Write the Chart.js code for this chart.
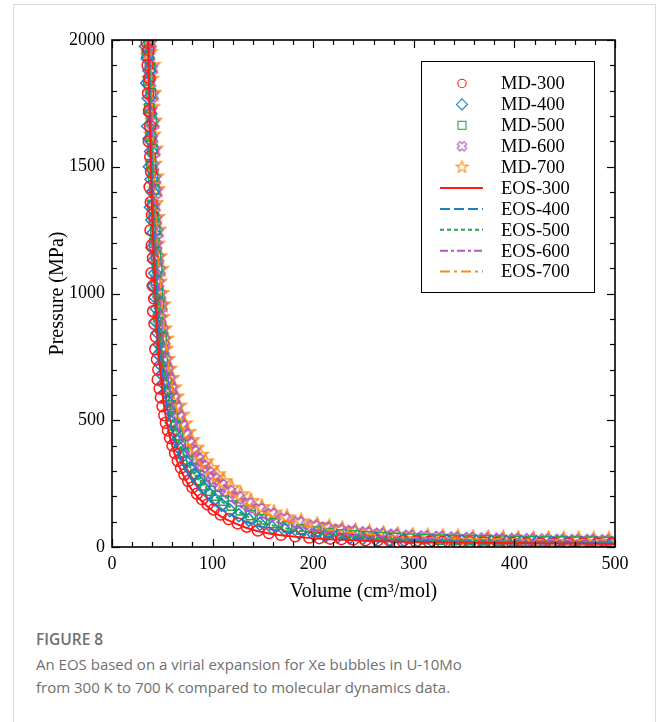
<!DOCTYPE html>
<html>
<head>
<meta charset="utf-8">
<script src="https://cdn.jsdelivr.net/npm/chart.js@4.4.0/dist/chart.umd.min.js"></script>
<style>
  html, body { margin: 0; padding: 0; background: #fff; }
  body { width: 656px; height: 722px; position: relative; overflow: hidden; }
  .frame { position: absolute; left: 13px; top: 4px; width: 643px; height: 760px;
           border: 1px solid #dcdcdc; box-sizing: border-box; }
  #wrap { position: absolute; left: 0; top: 0; width: 656px; height: 610px; }
  .caption { position: absolute; left: 36px; top: 628px; font-family: "Open Sans", sans-serif; color: #707070; }
  .caption .fig { font-weight: 600; font-size: 15.5px; line-height: 22px; }
  .caption p { margin: 3px 0 0 0; font-size: 15px; line-height: 22.5px; }
</style>
</head>
<body>
<div class="frame"></div>
<div id="wrap"><canvas id="eosChart" width="656" height="610"></canvas></div>
<div class="caption">
  <div class="fig">FIGURE 8</div>
  <p>An EOS based on a virial expansion for Xe bubbles in U-10Mo<br>from 300 K to 700 K compared to molecular dynamics data.</p>
</div>

<script>
/* ── MD data (volume cm3/mol, pressure MPa) ── */
var volume300   = [34.5, 36.2, 35.4, 37.1, 35.9, 36.8, 38.0, 36.6, 37.9, 38.9, 37.4, 38.6, 39.8, 38.3, 39.5, 40.8, 39.2, 40.6, 41.9, 40.9, 42.3, 43.6, 43.0, 44.7, 46.0, 45.4, 47.3, 48.6, 50.2, 52.0, 53.5, 55.6, 57.8, 60.1, 62.7, 65.4, 68.6, 72.0, 75.8, 80.0, 84.5, 89.6, 95.0, 101, 108, 116, 125, 134, 145, 156, 168, 182,
                   196, 206, 217, 228, 240, 252, 264, 276, 289, 302, 315, 328, 342, 356, 370, 384, 398, 412, 426, 440, 454, 468, 482, 496];
var pressure300 = [1990, 1960, 1900, 1850, 1790, 1720, 1660, 1600, 1540, 1480, 1420, 1360, 1310, 1250, 1190, 1140, 1080, 1030, 980, 930, 880, 830, 780, 740, 700, 660, 625, 590, 555, 520, 490, 460, 430, 400, 370, 340, 312, 286, 260, 235, 210, 188, 168, 148, 128, 110, 93, 80, 65, 55, 48, 42,
                   37, 35, 33, 31, 30, 27, 26, 25, 23, 22, 21, 20, 19, 19, 18, 17, 17, 16, 15, 15, 14, 14, 13, 13];

var volume400   = [33.8, 35.6, 37.0, 34.9, 36.4, 37.8, 36.0, 37.3, 38.9, 37.6, 39.2, 40.4, 38.7, 40.0, 41.3, 40.1, 41.8, 43.0, 41.6, 43.2, 44.5, 43.9, 45.6, 47.0, 46.5, 48.3, 49.9, 51.4, 53.2, 55.0, 57.2, 59.4, 61.8, 64.3, 67.0, 70.2, 73.6, 77.4, 81.5, 86.0, 91.0, 96.5, 102, 109, 117, 126, 136, 147, 159, 172, 186,
                   201, 212, 224, 236, 249, 262, 276, 290, 304, 318, 333, 348, 362, 377, 392, 407, 422, 437, 452, 467, 482, 497];
var pressure400 = [1975, 1930, 1880, 1830, 1770, 1710, 1660, 1610, 1560, 1500, 1450, 1400, 1340, 1290, 1240, 1180, 1130, 1080, 1030, 985, 940, 890, 845, 800, 760, 720, 680, 645, 610, 575, 540, 490, 455, 420, 390, 360, 335, 310, 285, 258, 233, 210, 188, 166, 145, 125, 107, 91, 77, 66, 56,
                   48, 44, 41, 37, 34, 32, 30, 28, 26, 25, 24, 23, 22, 21, 20, 20, 19, 18, 18, 17, 17, 16];

var volume500   = [36.5, 34.6, 37.8, 36.1, 38.6, 37.2, 39.5, 38.2, 40.3, 39.0, 40.9, 42.1, 40.2, 41.7, 43.1, 41.9, 43.7, 45.0, 43.6, 45.4, 46.8, 45.9, 47.9, 49.3, 48.7, 50.6, 52.4, 54.2, 56.2, 58.3, 60.6, 63.0, 65.6, 68.4, 71.5, 75.0, 78.8, 83.0, 87.5, 92.5, 98.0, 104, 111, 119, 128, 138, 149, 161, 174, 188,
                   203, 215, 228, 241, 254, 268, 282, 296, 311, 326, 341, 356, 371, 386, 401, 416, 431, 446, 461, 476, 491];
var pressure500 = [1995, 1940, 1890, 1840, 1790, 1730, 1680, 1620, 1570, 1510, 1460, 1410, 1350, 1300, 1250, 1200, 1150, 1100, 1050, 1005, 960, 910, 865, 825, 785, 745, 705, 650, 610, 560, 515, 480, 440, 405, 372, 340, 312, 287, 264, 243, 222, 203, 183, 163, 144, 126, 109, 94, 81, 70,
                   61, 55, 50, 46, 42, 39, 36, 33, 31, 29, 28, 27, 26, 25, 24, 23, 22, 22, 21, 21, 20];

var volume600   = [37.6, 35.8, 38.9, 37.0, 39.7, 38.3, 40.6, 39.2, 41.4, 40.1, 42.0, 43.3, 41.4, 42.9, 44.4, 43.2, 45.1, 46.5, 45.0, 46.9, 48.4, 47.4, 49.6, 51.1, 50.5, 52.6, 54.5, 56.5, 58.6, 61.0, 63.5, 66.2, 69.2, 72.5, 76.2, 80.3, 84.8, 89.8, 95.3, 101, 108, 116, 125, 135, 146, 158, 171, 185,
                   200, 212, 225, 238, 252, 266, 280, 295, 310, 325, 340, 355, 370, 385, 400, 415, 430, 445, 460, 475, 490];
var pressure600 = [1985, 1935, 1885, 1830, 1780, 1720, 1670, 1610, 1560, 1500, 1450, 1400, 1340, 1290, 1240, 1190, 1140, 1090, 1040, 995, 950, 900, 855, 815, 775, 735, 697, 660, 622, 585, 548, 512, 476, 442, 408, 376, 346, 318, 292, 268, 243, 218, 194, 170, 148, 128, 110, 95,
                   82, 74, 66, 60, 55, 50, 46, 42, 39, 37, 35, 33, 31, 30, 29, 28, 27, 26, 25, 25, 24];

var volume700   = [38.4, 36.9, 39.8, 38.1, 40.6, 39.3, 41.5, 40.2, 42.4, 41.2, 43.1, 44.5, 42.6, 44.1, 45.7, 44.4, 46.4, 47.9, 46.4, 48.4, 50.0, 48.9, 51.2, 52.8, 52.2, 54.4, 56.4, 58.5, 60.7, 63.2, 65.8, 68.6, 71.7, 75.1, 78.9, 83.1, 87.7, 92.8, 98.4, 104.5, 111, 119, 128, 138, 149, 161, 174, 188,
                   204, 216, 229, 242, 256, 270, 284, 299, 314, 329, 344, 359, 374, 389, 404, 419, 434, 449, 464, 479, 494];
var pressure700 = [1995, 1950, 1900, 1845, 1790, 1735, 1680, 1625, 1570, 1510, 1460, 1410, 1355, 1300, 1250, 1195, 1145, 1095, 1045, 1000, 955, 905, 860, 820, 780, 740, 702, 665, 628, 592, 556, 520, 486, 452, 420, 390, 362, 336, 310, 285, 258, 232, 206, 180, 156, 134, 115, 99,
                   85, 76, 69, 62, 56, 51, 47, 43, 40, 38, 36, 35, 34, 32, 31, 30, 30, 29, 29, 28, 28];

/* ── EOS curves ── */
var eosVolume = [35, 36, 37, 38, 39, 40, 41, 42, 43, 44, 45, 46.5, 48, 50, 52, 55, 58, 62, 66, 70, 75, 80, 86, 93, 100, 110, 120, 132, 145, 160, 177, 195, 215, 240, 270, 300, 340, 380, 420, 460, 500];
var eos300 = [2150, 1950, 1770, 1600, 1450, 1310, 1190, 1080, 990, 910, 840, 760, 690, 610, 550, 480, 425, 370, 325, 290, 252, 222, 193, 167, 143, 116, 97, 78, 62, 50, 42, 36, 31, 27, 23, 20, 18, 16, 15, 14, 12];
var eos400 = [2250, 2050, 1870, 1700, 1550, 1412, 1292, 1180, 1087, 1005, 930, 847, 775, 690, 625, 547, 485, 422, 372, 334, 293, 260, 230, 201, 176, 146, 124, 101, 83, 67, 56, 47, 40, 34, 28, 24, 22, 19, 18, 17, 15];
var eos500 = [2350, 2150, 1970, 1800, 1650, 1515, 1395, 1280, 1185, 1100, 1020, 935, 860, 770, 700, 615, 545, 475, 420, 377, 333, 298, 266, 236, 209, 177, 151, 125, 103, 85, 70, 59, 49, 41, 34, 28, 25, 23, 21, 20, 19];
var eos600 = [2450, 2250, 2070, 1900, 1750, 1617, 1497, 1380, 1282, 1195, 1110, 1022, 945, 850, 775, 682, 605, 527, 467, 421, 374, 337, 303, 270, 242, 207, 178, 148, 124, 102, 84, 70, 59, 48, 39, 33, 29, 26, 25, 24, 22];
var eos700 = [2550, 2350, 2170, 2000, 1850, 1720, 1600, 1480, 1380, 1290, 1200, 1110, 1030, 930, 850, 750, 665, 580, 515, 465, 415, 375, 340, 305, 275, 238, 205, 172, 145, 120, 98, 82, 68, 55, 45, 37, 33, 30, 28, 27, 26];

/* ── axes ── */
var xTicks = [0, 100, 200, 300, 400, 500];
var yTicks = [0, 500, 1000, 1500, 2000];
var xMinorStep = 20;
var yMinorStep = 100;

var C = {
  red:    '#ff1a1a',
  blue:   '#1c80c6',
  green:  '#22a648',
  purple: '#b058c4',
  orange: '#ff8a14',
};
var SERIF = '"Liberation Serif", "Times New Roman", serif';

function pts(vs, ps) {
  return vs.map(function (v, i) { return { x: v, y: ps[i] }; });
}

/* hollow 5-point star marker */
function starMarker(color, size, outer, inner, lw) {
  var c = document.createElement('canvas');
  c.width = size; c.height = size;
  var g = c.getContext('2d');
  g.strokeStyle = color; g.lineWidth = lw; g.lineJoin = 'miter';
  g.beginPath();
  for (var i = 0; i < 10; i++) {
    var r = i % 2 === 0 ? outer : inner;
    var a = -Math.PI / 2 + i * Math.PI / 5;
    var px = size / 2 + r * Math.cos(a), py = size / 2 + r * Math.sin(a);
    if (i === 0) g.moveTo(px, py); else g.lineTo(px, py);
  }
  g.closePath(); g.stroke();
  return c;
}

/* hollow X (rotated plus) marker */
function crossMarker(color, size, arm, half, lw) {
  var c = document.createElement('canvas');
  c.width = size; c.height = size;
  var g = c.getContext('2d');
  g.strokeStyle = color; g.lineWidth = lw;
  g.translate(size / 2, size / 2);
  g.rotate(Math.PI / 4);
  var p = [[-half, -arm], [half, -arm], [half, -half], [arm, -half], [arm, half], [half, half],
           [half, arm], [-half, arm], [-half, half], [-arm, half], [-arm, -half], [-half, -half]];
  g.beginPath();
  p.forEach(function (q, i) { if (i === 0) g.moveTo(q[0], q[1]); else g.lineTo(q[0], q[1]); });
  g.closePath(); g.stroke();
  return c;
}

var star = starMarker(C.orange, 19, 8.0, 3.4, 1.5);
var starSmall = starMarker(C.orange, 15, 6.2, 2.6, 1.1);
var cross = crossMarker(C.purple, 17, 6.4, 2.4, 1.5);
var crossSmall = crossMarker(C.purple, 13, 4.8, 1.8, 1.1);

function md(label, data, color, style, radius, legendStyle) {
  return {
    label: label, data: data, order: 1,
    pointStyle: style, pointRadius: radius, pointBorderWidth: 1.5,
    pointBorderColor: color, pointBackgroundColor: 'rgba(0,0,0,0)',
    borderColor: color, backgroundColor: 'rgba(0,0,0,0)',
    showLine: false, legendStyle: legendStyle,
  };
}
function eos(label, data, color, dash) {
  return {
    label: label, data: data, order: 0,
    showLine: true, pointRadius: 0, borderWidth: 2,
    borderColor: color, backgroundColor: color, borderDash: dash, fill: false,
  };
}

var datasets = [
  md('MD-300', pts(volume300, pressure300), C.red, 'circle', 5.5, 'circle'),
  md('MD-400', pts(volume400, pressure400), C.blue, 'rectRot', 6.5, 'rectRot'),
  md('MD-500', pts(volume500, pressure500), C.green, 'rect', 6.5, 'rect'),
  md('MD-600', pts(volume600, pressure600), C.purple, cross, 6.5, crossSmall),
  md('MD-700', pts(volume700, pressure700), C.orange, star, 7, starSmall),
  eos('EOS-300', pts(eosVolume, eos300), C.red, []),
  eos('EOS-400', pts(eosVolume, eos400), C.blue, [10, 4]),
  eos('EOS-500', pts(eosVolume, eos500), C.green, [4, 3]),
  eos('EOS-600', pts(eosVolume, eos600), C.purple, [8, 3, 3, 3]),
  eos('EOS-700', pts(eosVolume, eos700), C.orange, [10, 4, 3, 4]),
];

/* ── frame with inward ticks on all four sides ── */
var framePlugin = {
  id: 'frame',
  afterDraw: function (chart) {
    var ctx = chart.ctx, a = chart.chartArea, x = chart.scales.x, y = chart.scales.y;
    ctx.save();
    ctx.strokeStyle = '#000';
    function seg(x1, y1, x2, y2) { ctx.beginPath(); ctx.moveTo(x1, y1); ctx.lineTo(x2, y2); ctx.stroke(); }
    ctx.lineWidth = 1.2;
    for (var v = x.min; v <= x.max; v += xMinorStep) {
      var px = Math.round(x.getPixelForValue(v)) + 0.5;
      var len = xTicks.indexOf(v) >= 0 ? 8 : 5;
      seg(px, a.bottom, px, a.bottom - len);
      seg(px, a.top, px, a.top + len);
    }
    for (var w = y.min; w <= y.max; w += yMinorStep) {
      var py = Math.round(y.getPixelForValue(w)) + 0.5;
      var l2 = yTicks.indexOf(w) >= 0 ? 8 : 5;
      seg(a.left, py, a.left + l2, py);
      seg(a.right, py, a.right - l2, py);
    }
    ctx.lineWidth = 1.6;
    ctx.strokeRect(a.left, a.top, a.right - a.left, a.bottom - a.top);
    ctx.restore();
  },
};

/* ── boxed legend in the upper right ── */
var legendPlugin = {
  id: 'boxLegend',
  afterDraw: function (chart) {
    var ctx = chart.ctx;
    var box = { left: 421, top: 61, right: 594, bottom: 292 };
    var rowTop = 83.5, rowStep = 20.9, markX = 462, textX = 501;
    ctx.save();
    ctx.fillStyle = '#fff';
    ctx.fillRect(box.left, box.top, box.right - box.left, box.bottom - box.top);
    ctx.strokeStyle = '#000'; ctx.lineWidth = 1;
    ctx.strokeRect(box.left + 0.5, box.top + 0.5, box.right - box.left, box.bottom - box.top);
    chart.data.datasets.forEach(function (ds, i) {
      var cy = rowTop + i * rowStep;
      ctx.strokeStyle = ds.borderColor;
      if (ds.showLine) {
        ctx.lineWidth = 2; ctx.setLineDash(ds.borderDash);
        ctx.beginPath(); ctx.moveTo(440, cy); ctx.lineTo(483, cy); ctx.stroke();
        ctx.setLineDash([]);
      } else {
        ctx.lineWidth = 1.1;
        var s = ds.legendStyle;
        ctx.beginPath();
        if (s === 'circle') { ctx.arc(markX, cy, 4.2, 0, Math.PI * 2); ctx.stroke(); }
        else if (s === 'rectRot') { ctx.moveTo(markX, cy - 5.5); ctx.lineTo(markX + 5.5, cy); ctx.lineTo(markX, cy + 5.5); ctx.lineTo(markX - 5.5, cy); ctx.closePath(); ctx.stroke(); }
        else if (s === 'rect') { ctx.strokeRect(markX - 4, cy - 4, 8, 8); }
        else { ctx.drawImage(s, markX - s.width / 2, cy - s.height / 2); }
      }
      ctx.fillStyle = '#000';
      ctx.font = '18.5px ' + SERIF;
      ctx.textBaseline = 'middle';
      ctx.fillText(ds.label, textX, cy + 1);
    });
    ctx.restore();
  },
};

new Chart(document.getElementById('eosChart'), {
  type: 'scatter',
  data: { datasets: datasets },
  plugins: [framePlugin, legendPlugin],
  options: {
    responsive: false,
    animation: false,
    devicePixelRatio: 1,
    layout: { padding: { left: 0, right: 41, top: 40, bottom: 0 } },
    plugins: { legend: { display: false }, tooltip: { enabled: false } },
    scales: {
      x: {
        type: 'linear', min: 0, max: 500,
        afterBuildTicks: function (s) { s.ticks = xTicks.map(function (v) { return { value: v }; }); },
        afterFit: function (s) { s.height = 63; },
        grid: { display: false, drawTicks: false },
        border: { display: false },
        ticks: { color: '#000', font: { family: SERIF, size: 18 }, padding: 6, maxRotation: 0,
                 callback: function (v) { return String(v); } },
        title: { display: true, text: 'Volume (cm³/mol)', color: '#000',
                 font: { family: SERIF, size: 20 }, padding: { top: 0, bottom: 6 } },
      },
      y: {
        type: 'linear', min: 0, max: 2000,
        afterBuildTicks: function (s) { s.ticks = yTicks.map(function (v) { return { value: v }; }); },
        afterFit: function (s) { s.width = 112; },
        grid: { display: false, drawTicks: false },
        border: { display: false },
        ticks: { color: '#000', font: { family: SERIF, size: 18 }, padding: 7,
                 callback: function (v) { return String(v); } },
        title: { display: true, text: 'Pressure (MPa)', color: '#000',
                 font: { family: SERIF, size: 20 }, padding: { top: 46, bottom: 0 } },
      },
    },
  },
});
</script>
</body>
</html>
